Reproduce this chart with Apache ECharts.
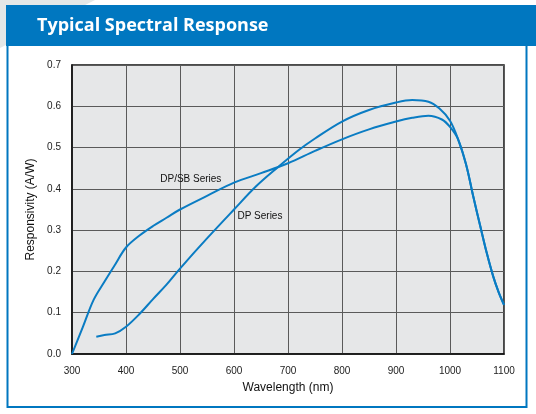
<!DOCTYPE html>
<html>
<head>
<meta charset="utf-8">
<script src="https://cdn.jsdelivr.net/npm/echarts@6/dist/echarts.min.js"></script>
<style>
html,body{margin:0;padding:0;background:#fff;}
#chart{width:536px;height:414px;}
</style>
</head>
<body>
<div id="chart"></div>
<script>
const titleText = 'Typical Spectral Response';
const xAxisName = 'Wavelength (nm)';
const yAxisName = 'Responsivity (A/W)';
const xTicks = [300, 400, 500, 600, 700, 800, 900, 1000, 1100];
const yTicks = [0.0, 0.1, 0.2, 0.3, 0.4, 0.5, 0.6, 0.7];

const dpsbName = 'DP/SB Series';
const dpsbWavelength = [300, 320, 340, 360, 380, 400, 425, 450, 475, 500, 550, 600, 650, 700, 750, 800, 850, 900, 930, 960, 985, 1000, 1015, 1030, 1043, 1056, 1068, 1080, 1090, 1100];
const dpsbResp =       [0.0, 0.065, 0.131, 0.175, 0.217, 0.258, 0.287, 0.31, 0.33, 0.35, 0.383, 0.415, 0.438, 0.462, 0.492, 0.52, 0.544, 0.563, 0.572, 0.577, 0.568, 0.55, 0.52, 0.458, 0.382, 0.31, 0.245, 0.188, 0.15, 0.119];

const dpName = 'DP Series';
const dpWavelength = [345, 360, 380, 400, 425, 450, 475, 500, 550, 600, 640, 680, 720, 750, 800, 850, 900, 930, 960, 980, 1000, 1015, 1030, 1043, 1056, 1068, 1080, 1090, 1100];
const dpResp =       [0.042, 0.046, 0.05, 0.066, 0.097, 0.133, 0.168, 0.207, 0.28, 0.35, 0.405, 0.451, 0.494, 0.522, 0.563, 0.591, 0.609, 0.615, 0.611, 0.595, 0.565, 0.52, 0.458, 0.382, 0.31, 0.245, 0.188, 0.15, 0.119];

const dpsbLabelAt = [520, 0.423];
const dpLabelAt = [648, 0.333];

const lineColor = '#0a7cc3';
const blue = '#0077c0';
const font = "'Liberation Sans', Arial, sans-serif";

const zip = (a, b) => a.map((v, i) => [v, b[i]]);

const labelPoint = (coord, text) => ({
  symbol: 'circle', symbolSize: 1, silent: true,
  itemStyle: {color: 'rgba(0,0,0,0)'},
  data: [{coord: coord, value: text}],
  label: {show: true, position: 'inside', formatter: text, fontFamily: font, fontSize: 10, color: '#111'}
});

const chart = echarts.init(document.getElementById('chart'), null, {renderer: 'canvas'});
chart.setOption({
  animation: false,
  backgroundColor: '#fff',
  graphic: [
    {type: 'polygon', z: -10, shape: {points: [[0,0],[95,0],[0,48]]}, style: {fill: '#e4e7e7'}},
    {type: 'rect', z: -5, shape: {x: 6, y: 5, width: 530, height: 41}, style: {fill: blue}},
    {type: 'text', left: 37, top: 17, style: {text: titleText, fill: '#fff', font: "bold 18px 'Open Sans', sans-serif"}},
    {type: 'polyline', shape: {points: [[7.5,46],[7.5,407],[526.5,407],[526.5,46]]}, style: {stroke: blue, lineWidth: 2, fill: null}}
  ],
  grid: {
    left: 72, right: 32, top: 65, bottom: 60,
    show: true, backgroundColor: '#e6e7e8', borderColor: '#111', borderWidth: 1.5
  },
  xAxis: {
    type: 'value', min: xTicks[0], max: xTicks[xTicks.length-1], interval: 100,
    name: xAxisName, nameLocation: 'middle', nameGap: 28,
    nameTextStyle: {fontFamily: font, fontSize: 12, color: '#111'},
    axisLine: {show: true, lineStyle: {color: '#111', width: 1.5}},
    axisTick: {show: false},
    axisLabel: {fontFamily: font, fontSize: 10, color: '#222', margin: 12, formatter: v => String(v)},
    splitLine: {show: true, lineStyle: {color: '#5a5a5a', width: 1}}
  },
  yAxis: {
    type: 'value', min: yTicks[0], max: yTicks[yTicks.length-1], interval: 0.1,
    name: yAxisName, nameLocation: 'middle', nameGap: 33,
    nameTextStyle: {fontFamily: font, fontSize: 12, color: '#111'},
    axisLine: {show: true, lineStyle: {color: '#111', width: 1.5}},
    axisTick: {show: false},
    axisLabel: {fontFamily: font, fontSize: 10, color: '#222', margin: 11, formatter: v => v.toFixed(1)},
    splitLine: {show: true, lineStyle: {color: '#5a5a5a', width: 1}}
  },
  series: [
    {
      name: dpsbName, type: 'line', data: zip(dpsbWavelength, dpsbResp),
      smooth: 0.35, symbol: 'none', lineStyle: {color: lineColor, width: 2},
      markPoint: labelPoint(dpsbLabelAt, dpsbName)
    },
    {
      name: dpName, type: 'line', data: zip(dpWavelength, dpResp),
      smooth: 0.35, symbol: 'none', lineStyle: {color: lineColor, width: 2},
      markPoint: labelPoint(dpLabelAt, dpName)
    }
  ]
});
</script>
</body>
</html>
